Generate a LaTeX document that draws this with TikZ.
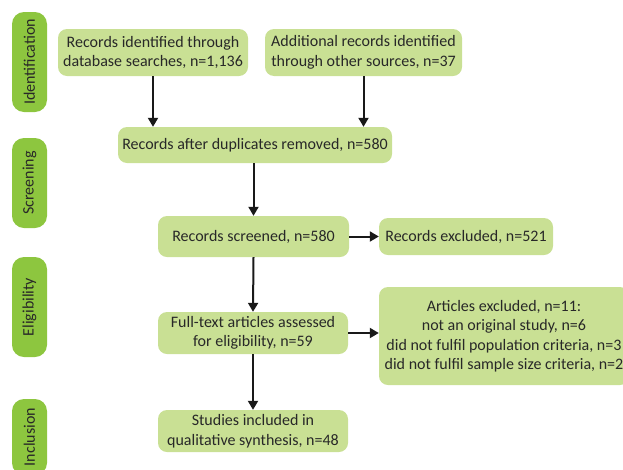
\documentclass[tikz,border=0pt]{standalone}
\usepackage{fontspec}
\setmainfont{Carlito}
\usetikzlibrary{arrows.meta}
\definecolor{boxgreen}{RGB}{201,224,148}
\definecolor{stagegreen}{RGB}{141,198,63}
\definecolor{textgray}{RGB}{40,40,40}

\begin{document}
\begin{tikzpicture}[x=1pt,y=-1pt,
  every node/.style={inner sep=0pt,text=textgray,font=\fontsize{16}{19.5}\selectfont},
  box/.style={fill=boxgreen,rounded corners=9pt,align=center},
  stage/.style={fill=stagegreen,rounded corners=12pt,rotate=90,minimum height=35pt},
  link/.style={line width=2pt,black!90,-{Triangle[length=9pt,width=10pt]}}]
\clip (0,0) rectangle (623,469);
\node [stage,minimum width=100pt] (ident) at (29.5,62) {Identification};
\node [stage,minimum width=90pt] (screen) at (29.5,183) {Screening};
\node [stage,minimum width=100pt] (elig) at (29.5,307) {Eligibility};
\node [stage,minimum width=76pt] (incl) at (29.5,437) {Inclusion};
\node [box,minimum width=190pt,minimum height=47pt] (dbrec) at (153,52.5) {Records identified through\\database searches, n=1,136};
\node [box,minimum width=197pt,minimum height=47pt] (otherrec) at (363.5,52.5) {Additional records identified\\through other sources, n=37};
\node [box,minimum width=274pt,minimum height=36pt] (dedup) at (255,145) {Records after duplicates removed, n=580};
\node [box,minimum width=191pt,minimum height=41pt] (screened) at (253.5,236.5) {Records screened, n=580};
\node [box,minimum width=174pt,minimum height=37pt] (recexcl) at (466,236.5) {Records excluded, n=521};
\node [box,minimum width=190pt,minimum height=42pt] (fulltext) at (253,333) {Full-text articles assessed\\for eligibility, n=59};
\node [box,minimum width=250pt,minimum height=98pt] (artexcl) at (504,336) {Articles excluded, n=11:\\not an original study, n=6\\did not fulfil population criteria, n=3\\did not fulfil sample size criteria, n=2};
\node [box,minimum width=190pt,minimum height=42pt] (included) at (253,431) {Studies included in\\qualitative synthesis, n=48};
\draw [link] (dbrec.south) -- (dbrec.south |- dedup.north);
\draw [link] (otherrec.south) -- (otherrec.south |- dedup.north);
\draw [link] (screened.north |- dedup.south) -- (screened.north);
\draw [link] (screened.east) -- (recexcl.west);
\draw [link] (screened.south) -- (fulltext.north);
\draw [link] (fulltext.east) -- (fulltext.east -| artexcl.west);
\draw [link] (fulltext.south) -- (included.north);
\end{tikzpicture}
\end{document}
